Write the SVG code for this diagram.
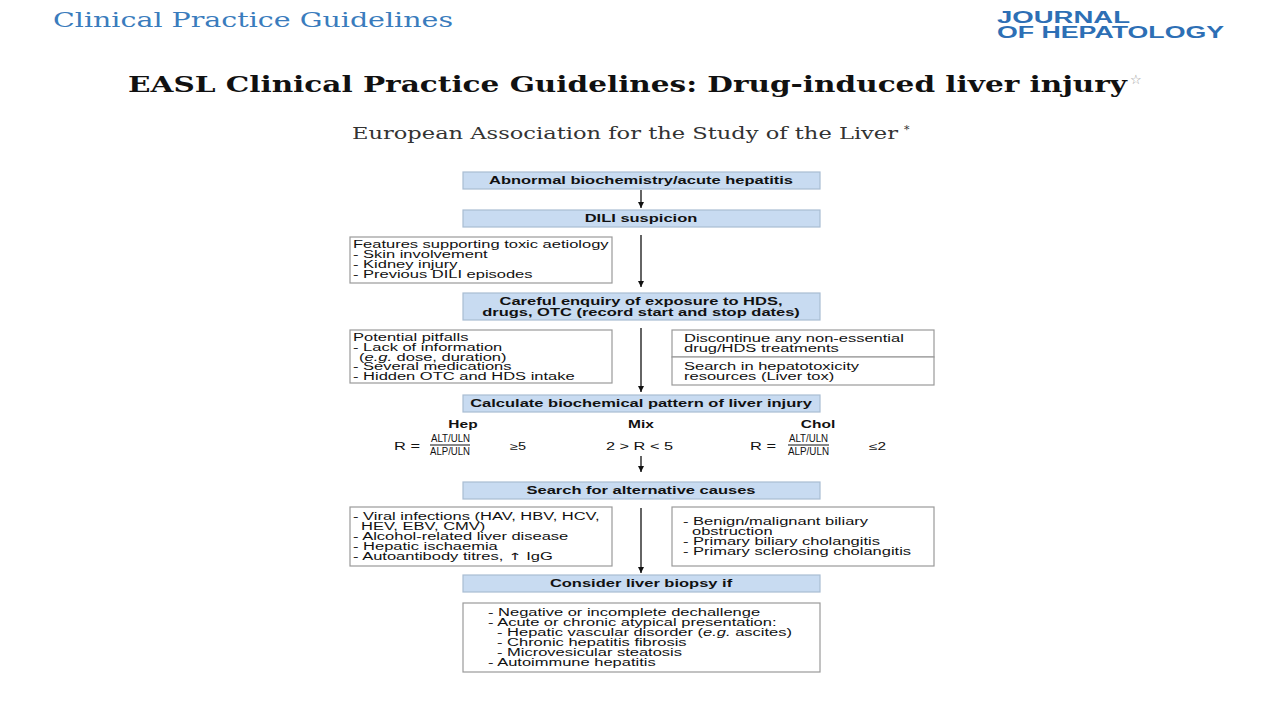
<svg xmlns="http://www.w3.org/2000/svg" width="1280" height="720" viewBox="0 0 1280 720">
<defs>
<marker id="ah" viewBox="0 0 10 10" refX="10" refY="5" markerWidth="6" markerHeight="6" markerUnits="userSpaceOnUse" orient="auto">
<path d="M0,0 L10,5 L0,10 z" fill="#111"/>
</marker>
<style>
.hdr{font-family:"DejaVu Serif","Liberation Serif",serif;}
.blue{fill:#c8dbf1;stroke:#a9bdd3;stroke-width:1.2;}
.wbox{fill:#fff;stroke:#9a9a9a;stroke-width:1.2;}
.bt{font-family:"Liberation Sans",Arial,sans-serif;font-size:10px;font-weight:bold;fill:#111;text-anchor:middle;}
.t{font-family:"Liberation Sans",Arial,sans-serif;font-size:10px;fill:#111;}
.f{font-family:"Liberation Sans",Arial,sans-serif;font-size:11.5px;fill:#111;}
.conn line{stroke:#111;stroke-width:1.3;}
</style>
</defs>
<rect width="1280" height="720" fill="#fff"/>
<text class="hdr" x="53" y="27" font-size="20" fill="#3a7cbd" textLength="400" lengthAdjust="spacingAndGlyphs">Clinical Practice Guidelines</text>
<text x="997" y="23" font-family="Liberation Sans,Arial,sans-serif" font-weight="bold" font-size="16" fill="#2d6fb5" textLength="133" lengthAdjust="spacingAndGlyphs">JOURNAL</text>
<text x="997" y="38" font-family="Liberation Sans,Arial,sans-serif" font-weight="bold" font-size="16" fill="#2d6fb5" textLength="227" lengthAdjust="spacingAndGlyphs">OF HEPATOLOGY</text>
<text class="hdr" x="128" y="92" font-size="23" font-weight="bold" fill="#111" textLength="999" lengthAdjust="spacingAndGlyphs">EASL Clinical Practice Guidelines: Drug-induced liver injury</text>
<text class="hdr" x="1130" y="84" font-size="13" fill="#999">☆</text>
<text class="hdr" x="352" y="139" font-size="16" fill="#333" textLength="546" lengthAdjust="spacingAndGlyphs">European Association for the Study of the Liver</text>
<text class="hdr" x="904" y="133" font-size="11" fill="#333">*</text>

<g class="conn">
<line x1="641" y1="190" x2="641" y2="208" marker-end="url(#ah)"/>
<line x1="641" y1="235" x2="641" y2="287" marker-end="url(#ah)"/>
<line x1="641" y1="328" x2="641" y2="392" marker-end="url(#ah)"/>
<line x1="641" y1="456" x2="641" y2="472" marker-end="url(#ah)"/>
<line x1="641" y1="508" x2="641" y2="573" marker-end="url(#ah)"/>
</g>

<g id="n1"><rect class="blue" x="463" y="172" width="357" height="17"/><text class="bt" transform="translate(641,184) scale(1.65,1)">Abnormal biochemistry/acute hepatitis</text></g>
<g id="n2"><rect class="blue" x="463" y="210" width="357" height="17"/><text class="bt" transform="translate(641,222) scale(1.65,1)">DILI suspicion</text></g>
<g id="n3"><rect class="wbox" x="350" y="237" width="262" height="46"/>
<text class="t" transform="translate(353,248) scale(1.65,1)">Features supporting toxic aetiology</text>
<text class="t" transform="translate(353,258) scale(1.65,1)">- Skin involvement</text>
<text class="t" transform="translate(353,268) scale(1.65,1)">- Kidney injury</text>
<text class="t" transform="translate(353,278) scale(1.65,1)">- Previous DILI episodes</text></g>
<g id="n4"><rect class="blue" x="463" y="293" width="357" height="27"/>
<text class="bt" transform="translate(641,305) scale(1.65,1)">Careful enquiry of exposure to HDS,</text>
<text class="bt" transform="translate(641,316) scale(1.65,1)">drugs, OTC (record start and stop dates)</text></g>
<g id="n5"><rect class="wbox" x="350" y="330" width="262" height="53"/>
<text class="t" transform="translate(353,341) scale(1.65,1)">Potential pitfalls</text>
<text class="t" transform="translate(353,351) scale(1.65,1)">- Lack of information</text>
<text class="t" transform="translate(359,360.5) scale(1.65,1)">(<tspan font-style="italic">e.g.</tspan> dose, duration)</text>
<text class="t" transform="translate(353,370) scale(1.65,1)">- Several medications</text>
<text class="t" transform="translate(353,380) scale(1.65,1)">- Hidden OTC and HDS intake</text></g>
<g id="n6"><rect class="wbox" x="672" y="330" width="262" height="27"/>
<text class="t" transform="translate(684,342) scale(1.65,1)">Discontinue any non-essential</text>
<text class="t" transform="translate(684,352) scale(1.65,1)">drug/HDS treatments</text></g>
<g id="n7"><rect class="wbox" x="672" y="357" width="262" height="28"/>
<text class="t" transform="translate(684,370) scale(1.65,1)">Search in hepatotoxicity</text>
<text class="t" transform="translate(684,380) scale(1.65,1)">resources (Liver tox)</text></g>
<g id="n8"><rect class="blue" x="463" y="395" width="357" height="17"/><text class="bt" transform="translate(641,407) scale(1.65,1)">Calculate biochemical pattern of liver injury</text></g>
<g id="hep">
<text class="bt" transform="translate(463,428) scale(1.55,1)">Hep</text>
<text class="t" x="394" y="450" font-size="12" textLength="26" lengthAdjust="spacingAndGlyphs">R =</text>
<text class="f" x="431" y="442" textLength="39" lengthAdjust="spacingAndGlyphs">ALT/ULN</text>
<line x1="430" y1="445" x2="470" y2="445" stroke="#111" stroke-width="1"/>
<text class="f" x="430" y="455" textLength="40" lengthAdjust="spacingAndGlyphs">ALP/ULN</text>
<text class="t" x="510" y="450" font-size="12" textLength="16" lengthAdjust="spacingAndGlyphs">≥5</text></g>
<g id="mix">
<text class="bt" transform="translate(641,428) scale(1.55,1)">Mix</text>
<text class="t" x="606" y="450" font-size="12" textLength="67" lengthAdjust="spacingAndGlyphs">2 &gt; R &lt; 5</text></g>
<g id="chol">
<text class="bt" transform="translate(818,428) scale(1.55,1)">Chol</text>
<text class="t" x="750" y="450" font-size="12" textLength="26" lengthAdjust="spacingAndGlyphs">R =</text>
<text class="f" x="789" y="442" textLength="39" lengthAdjust="spacingAndGlyphs">ALT/ULN</text>
<line x1="788" y1="445" x2="829" y2="445" stroke="#111" stroke-width="1"/>
<text class="f" x="788" y="455" textLength="41" lengthAdjust="spacingAndGlyphs">ALP/ULN</text>
<text class="t" x="869" y="450" font-size="12" textLength="17" lengthAdjust="spacingAndGlyphs">≤2</text></g>
<g id="n9"><rect class="blue" x="463" y="482" width="357" height="17"/><text class="bt" transform="translate(641,494) scale(1.65,1)">Search for alternative causes</text></g>
<g id="n10"><rect class="wbox" x="350" y="507" width="262" height="59"/>
<text class="t" transform="translate(353,520) scale(1.65,1)">- Viral infections (HAV, HBV, HCV,</text>
<text class="t" transform="translate(361,530) scale(1.65,1)">HEV, EBV, CMV)</text>
<text class="t" transform="translate(353,540) scale(1.65,1)">- Alcohol-related liver disease</text>
<text class="t" transform="translate(353,550) scale(1.65,1)">- Hepatic ischaemia</text>
<text class="t" transform="translate(353,560) scale(1.65,1)">- Autoantibody titres, <tspan font-family="DejaVu Sans,sans-serif" fill="#111">↑</tspan> IgG</text></g>
<g id="n11"><rect class="wbox" x="672" y="507" width="262" height="59"/>
<text class="t" transform="translate(683,525) scale(1.65,1)">- Benign/malignant biliary</text>
<text class="t" transform="translate(692,535) scale(1.65,1)">obstruction</text>
<text class="t" transform="translate(683,545) scale(1.65,1)">- Primary biliary cholangitis</text>
<text class="t" transform="translate(683,555) scale(1.65,1)">- Primary sclerosing cholangitis</text></g>
<g id="n12"><rect class="blue" x="463" y="575" width="357" height="17"/><text class="bt" transform="translate(641,587) scale(1.65,1)">Consider liver biopsy if</text></g>
<g id="n13"><rect class="wbox" x="463" y="603" width="357" height="69"/>
<text class="t" transform="translate(488,616) scale(1.65,1)">- Negative or incomplete dechallenge</text>
<text class="t" transform="translate(488,626) scale(1.65,1)">- Acute or chronic atypical presentation:</text>
<text class="t" transform="translate(497,636) scale(1.65,1)">- Hepatic vascular disorder (<tspan font-style="italic">e.g.</tspan> ascites)</text>
<text class="t" transform="translate(497,646) scale(1.65,1)">- Chronic hepatitis fibrosis</text>
<text class="t" transform="translate(497,656) scale(1.65,1)">- Microvesicular steatosis</text>
<text class="t" transform="translate(488,666) scale(1.65,1)">- Autoimmune hepatitis</text></g>
</svg>
